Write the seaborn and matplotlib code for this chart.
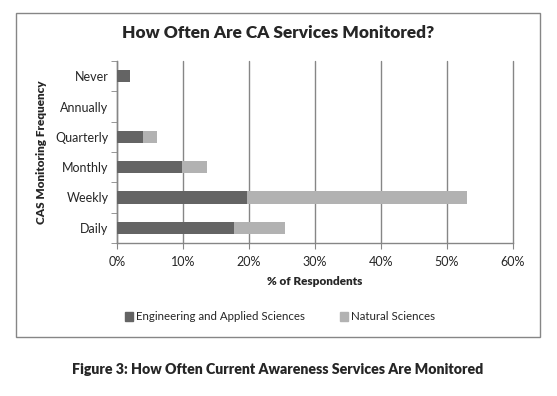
import matplotlib
matplotlib.use("Agg")
import matplotlib.pyplot as plt
import seaborn as sns
import pandas as pd
from matplotlib.patches import Rectangle, Patch
from matplotlib.ticker import FuncFormatter, FixedLocator

categories = ["Never", "Annually", "Quarterly", "Monthly", "Weekly", "Daily"]
eng_applied = [2.0, 0.0, 4.0, 9.9, 19.7, 17.7]
natural = [0.0, 0.0, 2.0, 3.8, 33.3, 7.8]
series_names = ["Engineering and Applied Sciences", "Natural Sciences"]
x_ticks = [0, 10, 20, 30, 40, 50, 60]

sns.set_style("white")
plt.rcParams['font.family'] = ['Lato', 'DejaVu Sans']

df = pd.DataFrame({
    "cat": categories,
    "eng": eng_applied,
    "total": [a + b for a, b in zip(eng_applied, natural)],
})

dark = "#646464"
light = "#b2b2b2"
grid = "#868686"

fig = plt.figure(figsize=(5.57, 3.96), dpi=100)
ax = fig.add_axes([117/557, 1-243/396, (513-117)/557, (243-61)/396])

sns.barplot(data=df, x="total", y="cat", order=categories, orient="h",
            color=light, width=0.4, saturation=1, ax=ax, zorder=3, linewidth=0)
sns.barplot(data=df, x="eng", y="cat", order=categories, orient="h",
            color=dark, width=0.4, saturation=1, ax=ax, zorder=4, linewidth=0)

ax.set_xlim(0, 60)
ax.set_ylim(5.5, -0.5)
ax.xaxis.set_major_locator(FixedLocator(x_ticks))
ax.xaxis.set_major_formatter(FuncFormatter(lambda v, p: f"{int(v)}%"))
ax.xaxis.grid(True, color=grid, linewidth=1, zorder=0)
ax.set_axisbelow(True)
for gl in ax.get_xgridlines():
    gl.set_clip_on(False)

for s in ["top", "right"]:
    ax.spines[s].set_visible(False)
for s in ["left", "bottom"]:
    ax.spines[s].set_color(grid)
    ax.spines[s].set_linewidth(1)

ax.tick_params(axis="x", which="major", direction="out", length=4, color=grid,
               labelsize=9, pad=5, bottom=True)
ax.tick_params(axis="y", which="major", length=0, labelsize=9, pad=6)
ax.set_yticks(range(len(categories)))
ax.set_yticklabels(categories)
ax.yaxis.set_minor_locator(FixedLocator([i - 0.5 for i in range(len(categories) + 1)]))
ax.tick_params(axis="y", which="minor", direction="out", length=4, color=grid, left=True)

ax.set_xlabel("% of Respondents", fontsize=8.5, fontweight="heavy", labelpad=6)
ax.set_ylabel("CAS Monitoring Frequency", fontsize=8.5, fontweight="heavy", labelpad=6)

fig.text(0.5 * (16 + 540) / 557, 1 - 33/396, "How Often Are CA Services Monitored?",
         ha="center", va="center", fontsize=12.4, fontweight="heavy")

handles = [Patch(color=dark), Patch(color=light)]
fig.legend(handles, series_names, loc="center", bbox_to_anchor=(280/557, 1 - 317/396),
           ncol=2, frameon=False, fontsize=8.3, handlelength=0.7, handleheight=0.7,
           handletextpad=0.3, columnspacing=3)

fig.patches.append(Rectangle((16/557, 1 - 337/396), (540-16)/557, (337-13)/396,
                             transform=fig.transFigure, fill=False,
                             edgecolor=grid, linewidth=1))

fig.text(0.5 * (16 + 540) / 557, 1 - 369/396,
         "Figure 3: How Often Current Awareness Services Are Monitored",
         ha="center", va="center", fontsize=10.2, fontweight="heavy")

fig.savefig("out.png", dpi=100)
